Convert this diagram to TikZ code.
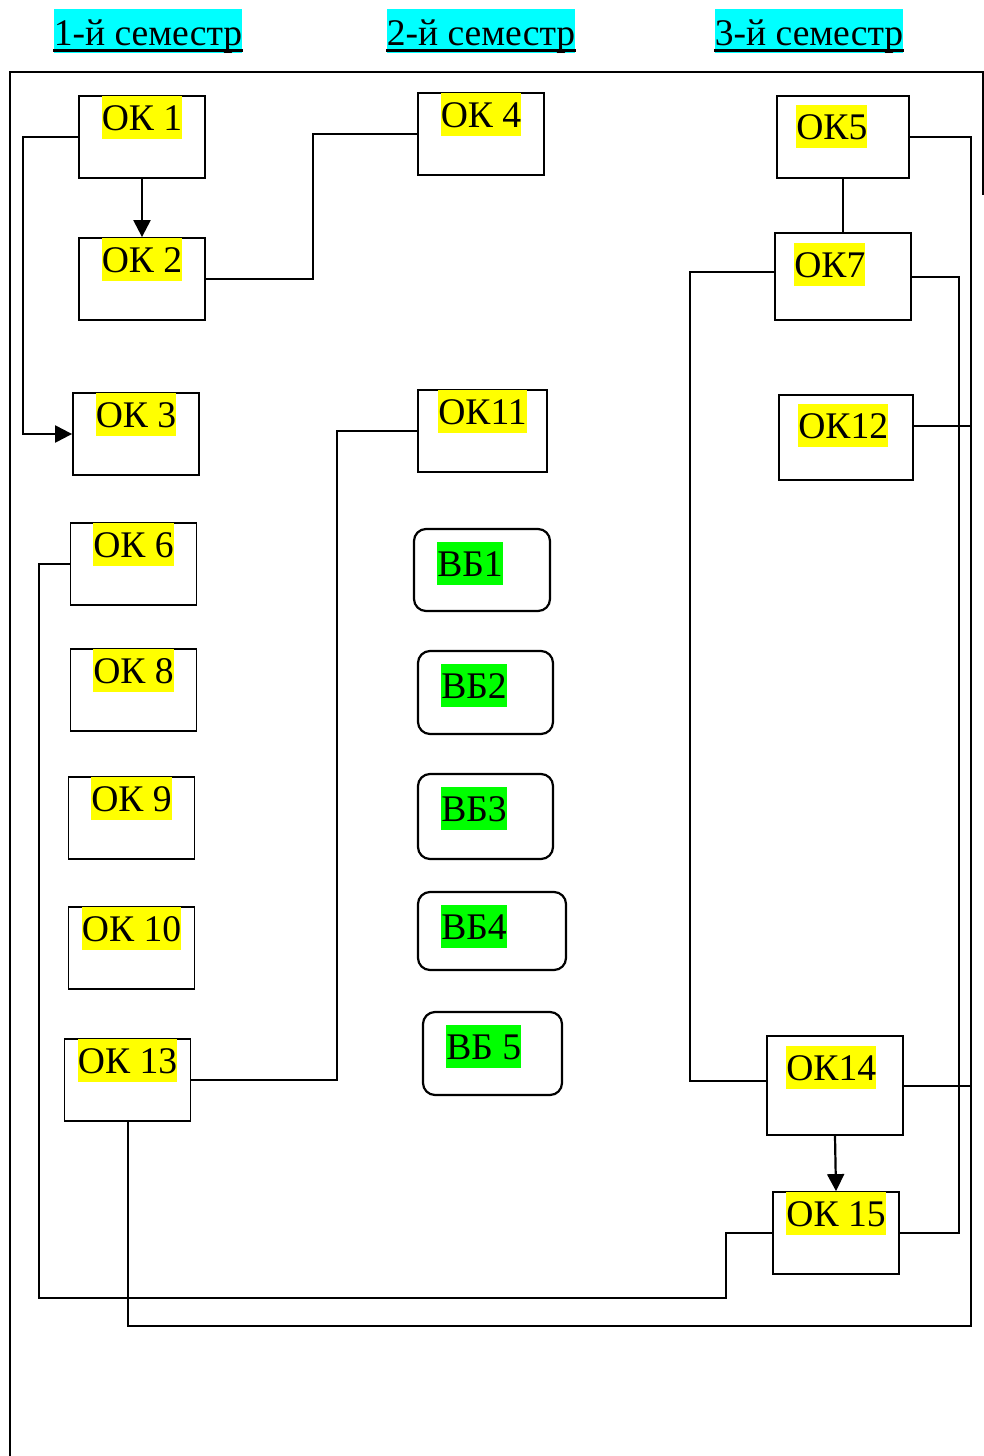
\documentclass[tikz,border=0pt]{standalone}
\usepackage{fontspec}
\setmainfont{Liberation Serif}
\usetikzlibrary{arrows.meta}
\definecolor{semcyan}{RGB}{0,255,255}
\definecolor{okyellow}{RGB}{255,255,0}
\definecolor{vbgreen}{RGB}{0,255,0}
\begin{document}
\begin{tikzpicture}[x=0.5pt, y=-0.5pt,
  every node/.style={font=\fontsize{18.8}{22}\selectfont},
  ok/.style={draw, line width=0.9pt, minimum width=63pt, minimum height=41pt, inner sep=0pt},
  vb/.style={ok, rounded corners=6pt, line width=1.1pt},
  hl/.style={fill=okyellow, inner sep=0pt, text height=17pt, text depth=4.5pt},
  hlg/.style={hl, fill=vbgreen},
  sem/.style={fill=semcyan, inner sep=0pt, text height=18pt, text depth=4pt},
  link/.style={line width=1pt},
  arr/.style={line width=1.1pt, -{Triangle[length=8.5pt,width=8.5pt]}}]

\useasboundingbox (0,0) rectangle (984,1456);

% Семестры
\node[sem] (sem1) at (148,31) {1-й семестр};
\node[sem] (sem2) at (481,31) {2-й семестр};
\node[sem] (sem3) at (809,31) {3-й семестр};
\foreach \s in {sem1,sem2,sem3}
  \draw[line width=1.3pt] ([yshift=-2.75pt]\s.base west) -- ([yshift=-2.75pt]\s.base east);

% Рамка
\draw[line width=1.1pt] (10,1456) -- (10,72) -- (983,72) -- (983,195);

% 1-й семестр
\node[ok] (ok1) at (142,137) {};
\node[hl, anchor=north] (t1) at ([yshift=-0.45pt]ok1.north) {ОК 1};
\node[ok] (ok2) at (142,279) {};
\node[hl, anchor=north] (t2) at ([yshift=-0.45pt]ok2.north) {ОК 2};
\node[ok] (ok3) at (136,434) {};
\node[hl, anchor=north] (t3) at ([yshift=-0.45pt]ok3.north) {ОК 3};
\node[ok] (ok6) at (133.5,564) {};
\node[hl, anchor=north] (t6) at ([yshift=-0.45pt]ok6.north) {ОК 6};
\node[ok] (ok8) at (133.5,690) {};
\node[hl, anchor=north] (t8) at ([yshift=-0.45pt]ok8.north) {ОК 8};
\node[ok] (ok9) at (131.5,818) {};
\node[hl, anchor=north] (t9) at ([yshift=-0.45pt]ok9.north) {ОК 9};
\node[ok] (ok10) at (131.5,948) {};
\node[hl, anchor=north] (t10) at ([yshift=-0.45pt]ok10.north) {ОК 10};
\node[ok] (ok13) at (127.5,1080) {};
\node[hl, anchor=north] (t13) at ([yshift=-0.45pt]ok13.north) {ОК 13};

% 2-й семестр
\node[ok] (ok4) at (481,134) {};
\node[hl, anchor=north] (t4) at ([yshift=-0.45pt]ok4.north) {ОК 4};
\node[ok, minimum width=64.5pt] (ok11) at (482.5,431) {};
\node[hl, anchor=north] (t11) at ([yshift=-0.45pt]ok11.north) {ОК11};
\node[vb, minimum width=68pt] (vb1) at (482,570) {};
\node[hlg, anchor=north west] (b1) at ([shift={(24,14)}]vb1.north west) {ВБ1};
\node[vb, minimum width=67.5pt, minimum height=41.5pt] (vb2) at (485.5,692.5) {};
\node[hlg, anchor=north west] (b2) at ([shift={(24,14)}]vb2.north west) {ВБ2};
\node[vb, minimum width=67.5pt, minimum height=42.5pt] (vb3) at (485.5,816.5) {};
\node[hlg, anchor=north west] (b3) at ([shift={(24,14)}]vb3.north west) {ВБ3};
\node[vb, minimum width=74pt, minimum height=39pt] (vb4) at (492,931) {};
\node[hlg, anchor=north west] (b4) at ([shift={(24,14)}]vb4.north west) {ВБ4};
\node[vb, minimum width=69.5pt, minimum height=41.5pt] (vb5) at (492.5,1053.5) {};
\node[hlg, anchor=north west] (b5) at ([shift={(24,14)}]vb5.north west) {ВБ 5};

% 3-й семестр
\node[ok, line width=1.1pt, minimum width=66pt] (ok5) at (843,137) {};
\node[hl, anchor=north west] (t5) at ([shift={(20,10)}]ok5.north west) {ОК5};
\node[ok, line width=1.1pt, minimum width=68pt, minimum height=43.5pt] (ok7) at (843,276.5) {};
\node[hl, anchor=north west] (t7) at ([shift={(20,11)}]ok7.north west) {ОК7};
\node[ok, line width=1.1pt, minimum width=67pt, minimum height=42.5pt] (ok12) at (846,437.5) {};
\node[hl, anchor=north west] (t12) at ([shift={(20,10)}]ok12.north west) {ОК12};
\node[ok, line width=1.1pt, minimum width=68pt, minimum height=49.5pt] (ok14) at (835,1085.5) {};
\node[hl, anchor=north west] (t14) at ([shift={(20,11)}]ok14.north west) {ОК14};
\node[ok] (ok15) at (836,1233) {};
\node[hl, anchor=north] (t15) at ([yshift=-0.45pt]ok15.north) {ОК 15};

% Связи
\coordinate (rbus) at (971,1326);
\coordinate (c12) at ([yshift=6pt]ok12.east);
\draw[arr] (ok1.south) -- (ok2.north);
\draw[arr] (ok1.west) -- ++(-55,0) |- (ok3.west);
\draw[link] (ok2.east) -- ++(107,0) |- (ok4.west);
\draw[link] (ok13.east) -- ++(146,0) |- (ok11.west);
\draw[link] (ok6.west) -| (39,1298) -| ([xshift=-23pt]ok15.west) -- (ok15.west);
\draw[link] (ok13.south) |- (rbus) |- (ok5.east);
\draw[link] (c12) -- (c12 -| rbus);
\draw[link] (ok14.east) -- (ok14.east -| rbus);
\draw[link] (ok7.east) -- ++(47,0) |- (ok15.east);
\draw[link] ([yshift=2.5pt]ok7.west) -- ++(-84,0) |- ([yshift=2.5pt]ok14.west);
\draw[link] (ok5.south) -- (ok7.north);
\draw[arr] (ok14.south) -- (ok15.north);

\end{tikzpicture}
\end{document}
